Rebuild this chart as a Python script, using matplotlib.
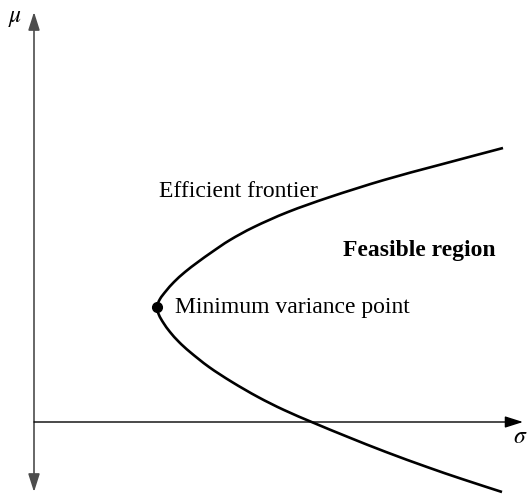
import numpy as np
import matplotlib
matplotlib.use("Agg")
import matplotlib.pyplot as plt
from matplotlib.patches import FancyArrowPatch, PathPatch
from matplotlib.path import Path

plt.rcParams['font.family'] = ['Liberation Serif', 'DejaVu Serif']
plt.rcParams['mathtext.fontset'] = 'stix'

# frontier points (sigma, mu), top branch -> bottom branch
sigma = [4.69, 4.05, 3.50, 2.96, 2.54, 2.20, 1.96, 1.78, 1.64, 1.51, 1.40, 1.32, 1.26, 1.23,
         1.25, 1.295, 1.36, 1.45, 1.56, 1.75, 1.98, 2.24, 2.50, 2.80, 3.14, 3.52, 3.93, 4.28, 4.68]
mu = [2.74, 2.57, 2.42, 2.25, 2.10, 1.95, 1.82, 1.70, 1.60, 1.50, 1.40, 1.31, 1.23, 1.15,
      1.07, 0.99, 0.90, 0.80, 0.70, 0.55, 0.40, 0.25, 0.12, -0.01, -0.15, -0.30, -0.45, -0.57, -0.70]
min_var = (1.23, 1.15)


def smooth_path(xs, ys):
    # catmull-rom through the read points, drawn as cubic bezier pieces
    p = np.column_stack([xs, ys])
    verts = [p[0]]
    codes = [Path.MOVETO]
    for i in range(len(p) - 1):
        p0 = p[i - 1] if i > 0 else p[i]
        p3 = p[i + 2] if i + 2 < len(p) else p[i + 1]
        c1 = p[i] + (p[i + 1] - p0) / 6.0
        c2 = p[i + 1] - (p3 - p[i]) / 6.0
        verts += [c1, c2, p[i + 1]]
        codes += [Path.CURVE4] * 3
    return Path(verts, codes)


fig = plt.figure(figsize=(5.28, 4.94), dpi=100)
ax = fig.add_axes([0, 0, 1, 1])
ax.set_xlim(-0.34, 4.94)
ax.set_ylim(-0.72, 4.22)
ax.axis('off')

# axes with arrows
vert = FancyArrowPatch((0, -0.70), (0, 4.10), arrowstyle='<|-|>,head_length=1.1,head_width=0.35',
                       mutation_scale=10, color='0.3', lw=1.2, shrinkA=0, shrinkB=0)
horz = FancyArrowPatch((0, 0), (4.89, 0), arrowstyle='-|>,head_length=1.1,head_width=0.35',
                       mutation_scale=10, color='black', lw=1.0, shrinkA=0, shrinkB=0)
ax.add_patch(vert)
ax.add_patch(horz)

ax.add_patch(PathPatch(smooth_path(sigma, mu), facecolor='none', edgecolor='black',
                       lw=1.9, capstyle='butt', joinstyle='round'))
ax.plot(*min_var, 'o', color='black', markersize=7)

ax.text(-0.19, 4.03, r'$\mu$', fontsize=17, ha='center', va='center')
ax.text(4.79, -0.15, r'$\sigma$', fontsize=17, ha='left', va='center')
ax.text(1.25, 2.25, 'Efficient frontier', fontsize=17, ha='left', va='baseline')
ax.text(1.41, 1.09, 'Minimum variance point', fontsize=17, ha='left', va='baseline')
ax.text(3.09, 1.66, 'Feasible region', fontsize=17, fontweight='bold', ha='left', va='baseline')

fig.savefig('out.png', dpi=100)
